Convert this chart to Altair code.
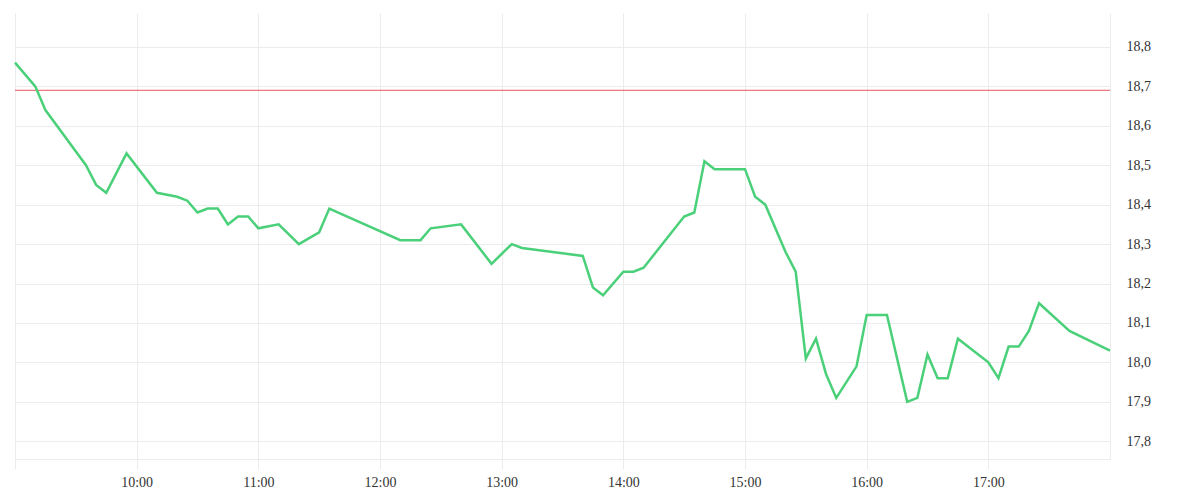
import altair as alt
import pandas as pd

times = ["09:00", "09:10", "09:15", "09:35", "09:40", "09:45", "09:55", "10:10", "10:20", "10:25",
         "10:30", "10:35", "10:40", "10:45", "10:50", "10:55", "11:00", "11:10", "11:20", "11:30",
         "11:35", "12:10", "12:20", "12:25", "12:40", "12:55", "13:05", "13:10", "13:40", "13:45",
         "13:50", "14:00", "14:05", "14:10", "14:30", "14:35", "14:40", "14:45", "15:00", "15:05",
         "15:10", "15:20", "15:25", "15:30", "15:35", "15:40", "15:45", "15:55", "16:00", "16:10",
         "16:20", "16:25", "16:30", "16:35", "16:40", "16:45", "17:00", "17:05", "17:10", "17:15",
         "17:20", "17:25", "17:40", "18:00"]
prices = [18.76, 18.70, 18.64, 18.50, 18.45, 18.43, 18.53, 18.43, 18.42, 18.41,
          18.38, 18.39, 18.39, 18.35, 18.37, 18.37, 18.34, 18.35, 18.30, 18.33,
          18.39, 18.31, 18.31, 18.34, 18.35, 18.25, 18.30, 18.29, 18.27, 18.19,
          18.17, 18.23, 18.23, 18.24, 18.37, 18.38, 18.51, 18.49, 18.49, 18.42,
          18.40, 18.28, 18.23, 18.01, 18.06, 17.97, 17.91, 17.99, 18.12, 18.12,
          17.90, 17.91, 18.02, 17.96, 17.96, 18.06, 18.00, 17.96, 18.04, 18.04,
          18.08, 18.15, 18.08, 18.03]
prev_close = 18.69
x_ticks = [9, 10, 11, 12, 13, 14, 15, 16, 17]
y_ticks = [17.8, 17.9, 18.0, 18.1, 18.2, 18.3, 18.4, 18.5, 18.6, 18.7, 18.8]


def to_hours(t):
    h, m = t.split(":")
    return int(h) + int(m) / 60.0


df = pd.DataFrame({"t": [to_hours(t) for t in times], "price": prices})
ref = pd.DataFrame({"y": [prev_close]})

GRID = "#ececec"
FONT = "Liberation Serif"

xscale = alt.Scale(domain=[9, 18], nice=False, zero=False)
yscale = alt.Scale(domain=[17.755, 18.886], nice=False, zero=False)

line = alt.Chart(df).mark_line(color="#4bd07a", strokeWidth=2.5).encode(
    x=alt.X("t:Q", scale=xscale, title=None,
            axis=alt.Axis(values=x_ticks, grid=True, gridColor=GRID, domainColor=GRID,
                          tickColor=GRID, tickSize=10, labelPadding=6,
                          labelExpr="datum.value == 9 ? '' : datum.value + ':00'",
                          labelFont=FONT, labelFontSize=14, labelColor="#333333")),
    y=alt.Y("price:Q", scale=yscale, title=None,
            axis=alt.Axis(orient="right", values=y_ticks, grid=True, gridColor=GRID,
                          domainColor=GRID, ticks=False, labelPadding=16,
                          labelExpr="replace(format(datum.value, '.1f'), '.', ',')",
                          labelFont=FONT, labelFontSize=14, labelColor="#333333")),
)

rule = alt.Chart(ref).mark_rule(color="#e5565c", strokeWidth=1).encode(
    y=alt.Y("y:Q", scale=yscale)
)

chart = alt.layer(rule, line).properties(
    width=1095, height=446,
    background="white",
    padding={"left": 2, "top": 5, "right": 5, "bottom": 5},
).configure_view(stroke=None)

chart.save("out.html", embed_options={"renderer": "svg", "actions": False})
